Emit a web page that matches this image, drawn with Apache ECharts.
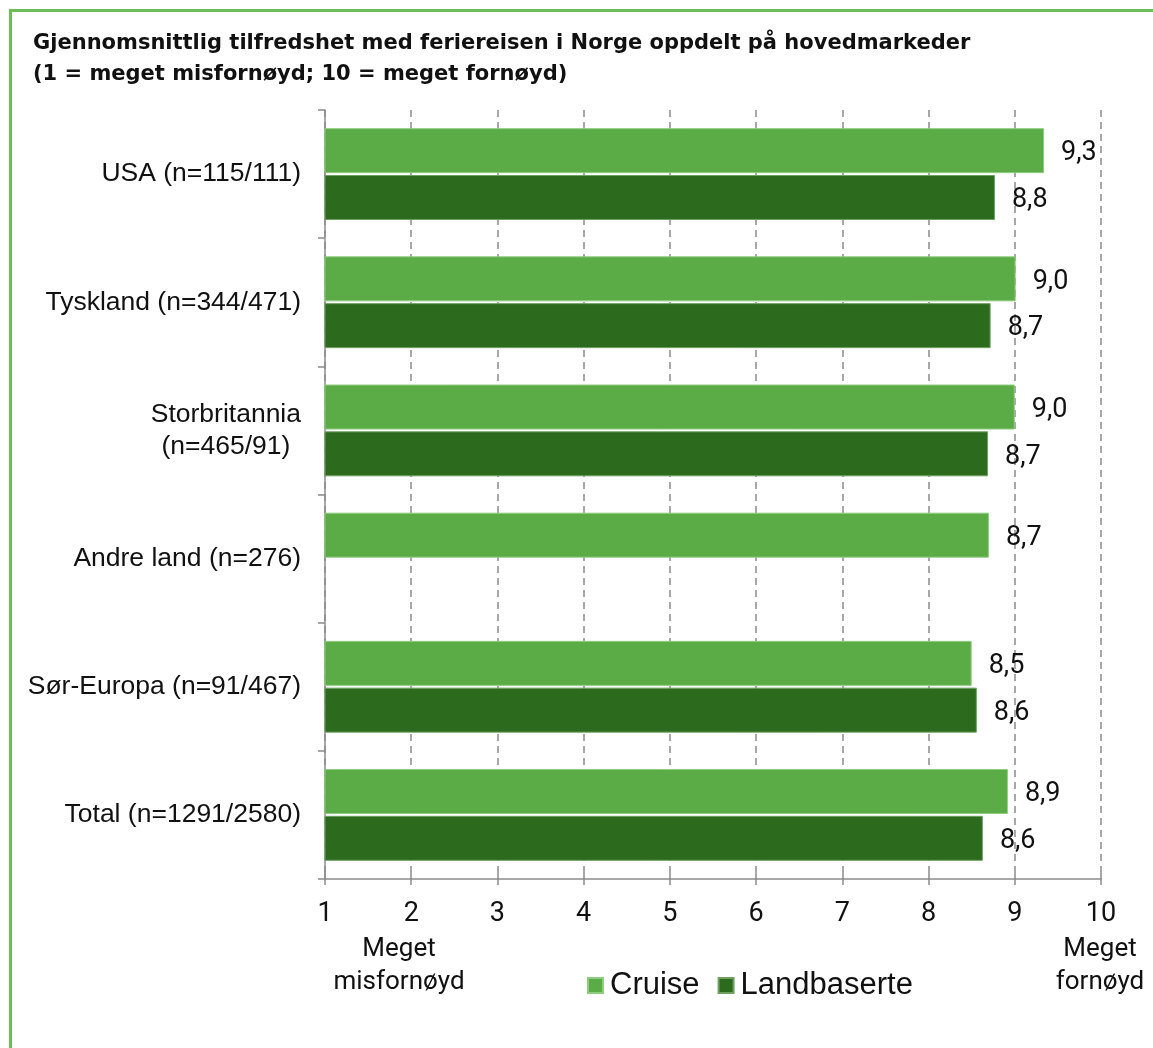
<!DOCTYPE html>
<html>
<head>
<meta charset="utf-8">
<script src="https://cdn.jsdelivr.net/npm/echarts@6/dist/echarts.min.js"></script>
<style>
html,body{margin:0;padding:0;background:#fff;}
#frame{position:absolute;left:9px;top:9px;width:1160px;height:1060px;border-left:3px solid #6cbf55;border-top:3px solid #6cbf55;box-sizing:border-box;}
#chart{position:absolute;left:0;top:0;width:1153px;height:1048px;}
</style>
</head>
<body>
<div id="frame"></div>
<div id="chart"></div>
<script>
const categories = ['USA (n=115/111)', 'Tyskland (n=344/471)', 'Storbritannia\n(n=465/91)', 'Andre land (n=276)', 'Sør-Europa (n=91/467)', 'Total (n=1291/2580)'];
const cruise = [9.34, 9.01, 9.0, 8.70, 8.50, 8.92];
const landbaserte = [8.77, 8.72, 8.69, null, 8.56, 8.63];
const xTicks = [1, 2, 3, 4, 5, 6, 7, 8, 9, 10];
const titleLines = ['Gjennomsnittlig tilfredshet med feriereisen i Norge oppdelt på hovedmarkeder', '(1 = meget misfornøyd; 10 = meget fornøyd)'];
const endLabels = ['Meget\nmisfornøyd', 'Meget\nfornøyd'];

const numFont = 'Roboto';
const fmt = v => v.toFixed(1).replace('.', ',');

const chart = echarts.init(document.getElementById('chart'));
const labelOpt = {
  show: true, position: 'right', distance: 17, offset: [0, 3],
  fontFamily: numFont, fontSize: 27, color: '#111',
  formatter: p => fmt(p.value)
};
chart.setOption({
  animation: false,
  title: {
    text: titleLines.join('\n'),
    left: 28, top: 23,
    textStyle: { fontFamily: 'DejaVu Sans', fontWeight: 'bold', fontSize: 21, lineHeight: 31, color: '#111' }
  },
  legend: {
    data: ['Cruise', 'Landbaserte'],
    left: 582, top: 965,
    itemWidth: 15, itemHeight: 15, itemGap: 18,
    icon: 'rect',
    textStyle: { fontFamily: 'Liberation Sans', fontSize: 31, color: '#111', padding: [0, 0, 0, 2] }
  },
  grid: { left: 325, right: 52, top: 110, bottom: 169, containLabel: false },
  xAxis: [{
    type: 'value', min: 1, max: 10, interval: 1,
    axisLine: { show: true, lineStyle: { color: '#8c8c8c', width: 1.5 } },
    axisTick: { show: true, length: 6, lineStyle: { color: '#8c8c8c', width: 1.5 } },
    axisLabel: { fontFamily: numFont, fontSize: 27, color: '#111', margin: 22, formatter: v => String(v) },
    splitLine: { show: true, lineStyle: { color: '#8c8c8c', width: 1.5, type: [7, 5] } }
  }, {
    type: 'value', min: 1, max: 10, interval: 1, position: 'bottom',
    axisLine: { show: false },
    axisTick: { show: true, inside: true, length: 6, lineStyle: { color: '#8c8c8c', width: 1.5 } },
    axisLabel: { show: false },
    splitLine: { show: false }
  }],
  yAxis: {
    type: 'category', inverse: true, data: categories,
    axisLine: { show: true, lineStyle: { color: '#8c8c8c', width: 1.5 } },
    axisTick: { show: true, length: 7, lineStyle: { color: '#8c8c8c', width: 1.5 } },
    axisLabel: {
      margin: 24, fontFamily: 'Liberation Sans', fontSize: 26.5, color: '#111', lineHeight: 32,
      formatter: v => v.split('\n').map(s => '{c|' + s + '}').join('\n'),
      rich: { c: { align: 'center', fontFamily: 'Liberation Sans', fontSize: 26.5, color: '#111', lineHeight: 32 } }
    }
  },
  series: [{
    name: 'Cruise', type: 'bar', data: cruise,
    barWidth: 45, barGap: '4%', barCategoryGap: '28%',
    itemStyle: { color: '#5bab47', borderColor: '#8fcc7f', borderWidth: 1 },
    label: labelOpt
  }, {
    name: 'Landbaserte', type: 'bar', data: landbaserte,
    barWidth: 45,
    itemStyle: { color: '#2c6b1e', borderColor: '#6fa062', borderWidth: 1 },
    label: labelOpt
  }],
  graphic: [{
    type: 'text', x: 399, y: 933,
    style: { text: endLabels[0], align: 'center', verticalAlign: 'top', font: '26px Roboto', lineHeight: 33, fill: '#111' }
  }, {
    type: 'text', x: 1100, y: 933,
    style: { text: endLabels[1], align: 'center', verticalAlign: 'top', font: '26px Roboto', lineHeight: 33, fill: '#111' }
  }]
});
</script>
</body>
</html>
